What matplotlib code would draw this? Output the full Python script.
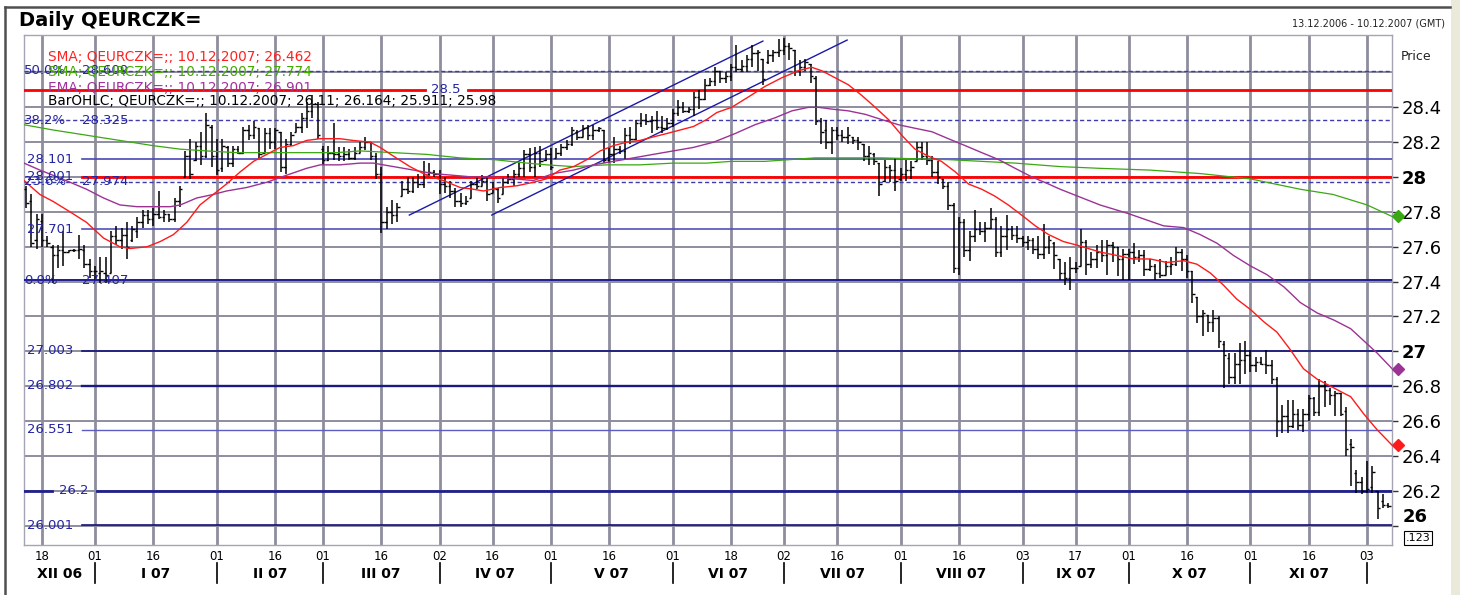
import numpy as np
import pandas as pd
import matplotlib
matplotlib.use('Agg')
import matplotlib.pyplot as plt
import matplotlib.transforms as mtransforms
from matplotlib.lines import Line2D
from matplotlib.patches import Rectangle

# daily OHLC bars, one per weekday from 13.12.2006
bar_open = [27.93, 27.86, 27.64, 27.75, 27.64, 27.60, 27.55, 27.58, 27.57, 27.58,
            27.58, 27.58, 27.50, 27.46, 27.45, 27.45, 27.45, 27.66, 27.64, 27.67,
            27.64, 27.69, 27.74, 27.78, 27.76, 27.79, 27.77, 27.79, 27.76, 27.86,
            28.00, 28.12, 28.10, 28.18, 28.12, 28.29, 28.12, 28.05, 28.17, 28.08,
            28.16, 28.14, 28.27, 28.24, 28.28, 28.14, 28.25, 28.20, 28.26, 28.06,
            28.19, 28.26, 28.29, 28.34, 28.38, 28.42, 28.16, 28.10, 28.14, 28.13,
            28.12, 28.13, 28.11, 28.14,
            28.17, 28.20, 28.12, 28.02, 27.74, 27.80, 27.78, 27.89, 27.93, 27.92,
            27.97, 27.96, 28.02, 28.03, 28.02, 27.96, 27.95, 27.92, 27.86, 27.85,
            27.88, 27.96, 27.95, 27.98, 27.91, 27.93, 27.90, 27.97, 27.99, 28.02,
            28.05, 28.13, 28.06, 28.14, 28.10, 28.13, 28.11, 28.14, 28.17, 28.19,
            28.26, 28.23, 28.28, 28.24, 28.27, 28.27, 28.10, 28.13, 28.16, 28.15,
            28.24, 28.22, 28.31, 28.33, 28.32, 28.33, 28.29, 28.28, 28.31, 28.37,
            28.40, 28.38, 28.39, 28.46, 28.45, 28.53, 28.55, 28.61,
            28.57, 28.58, 28.63, 28.62, 28.64, 28.68, 28.71, 28.68, 28.66, 28.70,
            28.72, 28.73, 28.75, 28.73, 28.61, 28.63, 28.65, 28.57, 28.32, 28.27,
            28.20, 28.27, 28.24, 28.23, 28.23, 28.21, 28.19, 28.12, 28.13, 28.08,
            27.98, 28.06, 28.04, 27.99, 28.02, 28.04, 28.09, 28.17, 28.12, 28.10,
            28.03, 27.99, 27.95, 27.84, 27.48, 27.74, 27.58, 27.66, 27.70, 27.69,
            27.71, 27.76, 27.57, 27.66, 27.70, 27.67, 27.65, 27.63, 27.64, 27.59,
            27.56, 27.60, 27.62,
            27.53, 27.45, 27.42, 27.48, 27.49, 27.63, 27.50, 27.53, 27.57, 27.55,
            27.61, 27.60, 27.53, 27.56, 27.57, 27.54, 27.55, 27.47, 27.49, 27.45,
            27.44, 27.49, 27.50, 27.57, 27.53, 27.46, 27.31, 27.20, 27.21, 27.17,
            27.19, 27.04, 26.96, 26.85, 26.93, 26.95, 26.98, 26.92, 26.94, 26.93,
            26.92, 26.84, 26.60, 26.63, 26.57, 26.64, 26.58, 26.64, 26.73, 26.65,
            26.80, 26.78, 26.75, 26.76, 26.66, 26.47, 26.30, 26.25, 26.20, 26.22,
            26.20, 26.14, 26.12]
bar_high = [27.95, 27.90, 27.79, 27.79, 27.66, 27.61, 27.61, 27.69, 27.58, 27.59,
            27.67, 27.61, 27.53, 27.49, 27.54, 27.54, 27.69, 27.72, 27.71, 27.74,
            27.72, 27.77, 27.81, 27.81, 27.82, 27.92, 27.81, 27.79, 27.88, 27.95,
            28.15, 28.22, 28.20, 28.26, 28.37, 28.30, 28.22, 28.22, 28.18, 28.18,
            28.18, 28.29, 28.30, 28.32, 28.28, 28.28, 28.28, 28.28, 28.26, 28.22,
            28.26, 28.31, 28.37, 28.43, 28.47, 28.43, 28.18, 28.18, 28.31, 28.17,
            28.17, 28.16, 28.17, 28.20,
            28.23, 28.20, 28.14, 28.06, 27.83, 27.87, 27.85, 27.98, 28.00, 28.00,
            28.02, 28.09, 28.08, 28.04, 28.04, 28.00, 27.98, 27.94, 27.91, 27.89,
            27.98, 28.00, 28.01, 28.00, 27.97, 27.94, 28.00, 28.02, 28.04, 28.08,
            28.155, 28.165, 28.17, 28.18, 28.155, 28.165, 28.165, 28.19, 28.21, 28.29,
            28.27, 28.30, 28.30, 28.30, 28.29, 28.27, 28.165, 28.23, 28.18, 28.28,
            28.29, 28.33, 28.37, 28.36, 28.35, 28.38, 28.35, 28.34, 28.39, 28.44,
            28.43, 28.40, 28.49, 28.50, 28.56, 28.57, 28.63, 28.61,
            28.60, 28.65, 28.76, 28.67, 28.70, 28.76, 28.73, 28.68, 28.73, 28.73,
            28.79, 28.80, 28.77, 28.73, 28.67, 28.68, 28.65, 28.58, 28.34, 28.33,
            28.29, 28.29, 28.27, 28.29, 28.23, 28.23, 28.19, 28.18, 28.14, 28.08,
            28.10, 28.07, 28.11, 28.05, 28.10, 28.09, 28.20, 28.20, 28.20, 28.12,
            28.09, 27.99, 27.97, 27.85, 27.77, 27.76, 27.69, 27.81, 27.74, 27.74,
            27.82, 27.77, 27.72, 27.78, 27.72, 27.72, 27.66, 27.66, 27.65, 27.66,
            27.73, 27.66, 27.63,
            27.53, 27.51, 27.54, 27.51, 27.70, 27.64, 27.57, 27.61, 27.64, 27.64,
            27.63, 27.60, 27.59, 27.59, 27.62, 27.58, 27.58, 27.53, 27.50, 27.53,
            27.52, 27.54, 27.60, 27.59, 27.55, 27.46, 27.31, 27.24, 27.21, 27.24,
            27.20, 27.06, 26.99, 26.99, 27.05, 27.06, 27.01, 26.97, 26.97, 27.01,
            26.95, 26.85, 26.69, 26.72, 26.72, 26.67, 26.67, 26.75, 26.74, 26.84,
            26.83, 26.79, 26.77, 26.76, 26.68, 26.50, 26.32, 26.28, 26.37, 26.34,
            26.20, 26.18, 26.13]
bar_low = [27.82, 27.60, 27.59, 27.60, 27.60, 27.39, 27.48, 27.49, 27.57, 27.57,
           27.53, 27.48, 27.42, 27.41, 27.39, 27.39, 27.45, 27.61, 27.59, 27.53,
           27.63, 27.65, 27.71, 27.73, 27.72, 27.76, 27.74, 27.74, 27.74, 27.83,
           28.00, 27.99, 28.09, 28.07, 28.11, 28.06, 28.01, 28.03, 28.06, 28.06,
           28.13, 28.13, 28.21, 28.22, 28.11, 28.14, 28.16, 28.16, 28.03, 28.02,
           28.18, 28.26, 28.25, 28.28, 28.34, 28.22, 28.07, 28.09, 28.10, 28.09,
           28.09, 28.10, 28.10, 28.14,
           28.155, 28.10, 27.99, 27.68, 27.70, 27.73, 27.74, 27.89, 27.90, 27.91,
           27.94, 27.94, 28.00, 28.00, 27.90, 27.91, 27.88, 27.83, 27.83, 27.84,
           27.88, 27.93, 27.95, 27.86, 27.91, 27.85, 27.90, 27.96, 27.95, 28.00,
           28.00, 28.03, 28.00, 28.06, 28.09, 28.04, 28.11, 28.12, 28.155, 28.18,
           28.21, 28.23, 28.21, 28.21, 28.26, 28.08, 28.08, 28.08, 28.13, 28.10,
           28.19, 28.21, 28.29, 28.30, 28.25, 28.27, 28.25, 28.27, 28.29, 28.35,
           28.37, 28.37, 28.35, 28.39, 28.44, 28.52, 28.52, 28.54,
           28.54, 28.55, 28.60, 28.60, 28.60, 28.63, 28.61, 28.53, 28.65, 28.66,
           28.69, 28.70, 28.67, 28.58, 28.58, 28.61, 28.54, 28.30, 28.19, 28.16,
           28.13, 28.21, 28.20, 28.19, 28.19, 28.155, 28.09, 28.07, 28.07, 27.89,
           27.97, 27.97, 27.92, 27.98, 27.98, 27.99, 28.09, 28.10, 28.07, 28.00,
           27.96, 27.93, 27.81, 27.45, 27.44, 27.54, 27.52, 27.63, 27.67, 27.63,
           27.70, 27.54, 27.54, 27.58, 27.64, 27.62, 27.60, 27.58, 27.56, 27.53,
           27.53, 27.56, 27.47,
           27.41, 27.38, 27.35, 27.45, 27.49, 27.44, 27.48, 27.48, 27.51, 27.44,
           27.51, 27.43, 27.41, 27.41, 27.50, 27.51, 27.43, 27.46, 27.41, 27.42,
           27.44, 27.44, 27.49, 27.46, 27.42, 27.28, 27.16, 27.09, 27.11, 27.11,
           27.02, 26.79, 26.81, 26.81, 26.81, 26.87, 26.88, 26.88, 26.92, 26.87,
           26.81, 26.51, 26.53, 26.53, 26.56, 26.55, 26.54, 26.60, 26.63, 26.63,
           26.68, 26.69, 26.63, 26.63, 26.40, 26.23, 26.19, 26.18, 26.19, 26.19,
           26.04, 26.10, 26.10]
bar_close = [27.85, 27.62, 27.76, 27.64, 27.62, 27.55, 27.58, 27.57, 27.58, 27.58,
             27.59, 27.50, 27.46, 27.46, 27.46, 27.44, 27.66, 27.64, 27.67, 27.60,
             27.70, 27.74, 27.78, 27.76, 27.79, 27.77, 27.79, 27.76, 27.86, 27.93,
             28.12, 28.02, 28.18, 28.12, 28.30, 28.12, 28.04, 28.18, 28.08, 28.16,
             28.14, 28.27, 28.24, 28.29, 28.13, 28.25, 28.20, 28.27, 28.06, 28.19,
             28.24, 28.29, 28.34, 28.38, 28.42, 28.24, 28.10, 28.14, 28.13, 28.12,
             28.13, 28.11, 28.14, 28.17,
             28.20, 28.12, 28.02, 27.74, 27.80, 27.78, 27.83, 27.93, 27.92, 27.97,
             27.96, 28.02, 28.03, 28.02, 27.96, 27.95, 27.92, 27.86, 27.85, 27.86,
             27.96, 27.95, 27.98, 27.90, 27.94, 27.88, 27.97, 27.99, 28.02, 28.05,
             28.13, 28.06, 28.14, 28.09, 28.13, 28.06, 28.14, 28.17, 28.19, 28.27,
             28.23, 28.28, 28.24, 28.27, 28.28, 28.10, 28.13, 28.16, 28.15, 28.24,
             28.22, 28.31, 28.33, 28.32, 28.33, 28.29, 28.28, 28.31, 28.37, 28.40,
             28.38, 28.39, 28.46, 28.45, 28.53, 28.55, 28.61, 28.57,
             28.58, 28.63, 28.62, 28.64, 28.68, 28.71, 28.72, 28.56, 28.70, 28.72,
             28.73, 28.75, 28.74, 28.61, 28.63, 28.66, 28.58, 28.32, 28.26, 28.20,
             28.27, 28.24, 28.23, 28.24, 28.21, 28.20, 28.12, 28.14, 28.09, 27.96,
             28.06, 28.04, 27.98, 28.02, 28.04, 28.06, 28.17, 28.12, 28.10, 28.03,
             28.00, 27.95, 27.84, 27.48, 27.74, 27.58, 27.66, 27.70, 27.69, 27.71,
             27.76, 27.57, 27.66, 27.70, 27.67, 27.65, 27.63, 27.64, 27.59, 27.56,
             27.60, 27.64, 27.55,
             27.45, 27.42, 27.48, 27.48, 27.63, 27.50, 27.53, 27.57, 27.55, 27.61,
             27.60, 27.53, 27.56, 27.57, 27.54, 27.55, 27.47, 27.49, 27.45, 27.44,
             27.49, 27.50, 27.57, 27.53, 27.46, 27.33, 27.20, 27.22, 27.17, 27.19,
             27.06, 26.98, 26.85, 26.93, 26.95, 26.98, 26.92, 26.94, 26.93, 26.92,
             26.84, 26.60, 26.63, 26.57, 26.64, 26.58, 26.64, 26.73, 26.65, 26.80,
             26.78, 26.75, 26.76, 26.64, 26.44, 26.45, 26.25, 26.20, 26.21, 26.31,
             26.10, 26.12, 26.11]

# moving averages (bar position, value)
sma_fast_x = [-0.4, 2.6, 5.1, 8.3, 11.4, 14.6, 17.7, 19.6, 22.8, 25.3, 27.8, 30.3, 32.8,
              35.3, 37.8, 40.4, 42.9, 45.4, 47.9, 50.4, 52.9, 55.5, 59.2, 61.7, 64.9,
              66.8, 69.3, 72.4, 75.6, 78.7, 81.9, 84.4, 86.3, 89.4, 92.6, 95.7, 98.2,
              100.7, 103.3, 105.8, 108.3, 110.8, 113.3, 115.8, 118.3, 120.9, 123.4,
              125.9, 128.4, 130.3, 133.1, 136.3, 139.4, 142.6, 145.7, 148.2, 150.1,
              152.6, 155.1, 157.6, 160.2, 162.7, 165.2, 167.7, 170.2, 172.7, 175.3,
              177.8, 180.3, 182.8, 185.3, 187.9, 190.4, 192.9, 195.7, 198.2, 202.6,
              205.8, 208.9, 212.1, 215.2, 218.4, 220.9, 223.4, 225.9, 228.4, 231.0,
              233.5, 236.0, 238.5, 241.0, 243.6, 246.1, 248.6, 249.9, 252.4, 254.9, 257.7]
sma_fast_y = [27.98, 27.90, 27.86, 27.80, 27.74, 27.65, 27.60, 27.59, 27.60, 27.63, 27.67,
              27.74, 27.84, 27.90, 27.96, 28.03, 28.09, 28.13, 28.17, 28.18, 28.21, 28.22,
              28.22, 28.21, 28.20, 28.17, 28.12, 28.06, 28.01, 27.98, 27.94, 27.93, 27.92,
              27.94, 27.95, 27.97, 27.99, 28.04, 28.06, 28.10, 28.15, 28.18, 28.20, 28.21,
              28.23, 28.25, 28.27, 28.29, 28.33, 28.37, 28.40, 28.46, 28.52, 28.57, 28.61,
              28.63, 28.61, 28.57, 28.53, 28.47, 28.40, 28.33, 28.24, 28.16, 28.12, 28.09,
              28.03, 27.96, 27.93, 27.89, 27.84, 27.78, 27.72, 27.67, 27.63, 27.61, 27.57,
              27.55, 27.53, 27.53, 27.51, 27.52, 27.50, 27.45, 27.38, 27.30, 27.24, 27.17,
              27.11, 27.01, 26.90, 26.84, 26.80, 26.76, 26.74, 26.64, 26.55, 26.462]
ema_x = [-0.4, 2.6, 5.1, 8.3, 11.4, 14.6, 17.7, 20.9, 24.0, 27.2, 29.1, 32.2, 35.3, 37.8,
         41.6, 45.4, 49.1, 52.9, 55.5, 59.2, 63.0, 65.5, 69.3, 73.1, 76.8, 80.6, 84.4,
         88.2, 92.0, 95.7, 99.5, 103.3, 107.0, 110.8, 114.6, 118.3, 122.1, 125.9, 129.7,
         133.8, 137.5, 141.3, 144.5, 147.6, 149.5, 152.0, 155.1, 158.3, 161.4, 164.6,
         167.7, 170.9, 174.0, 177.2, 180.3, 183.5, 186.6, 189.8, 192.9, 195.1, 202.6,
         208.0, 214.6, 218.4, 221.5, 224.7, 227.8, 231.0, 234.1, 237.3, 240.4, 243.6,
         246.7, 249.9, 252.4, 254.9, 257.7]
ema_y = [28.08, 28.04, 28.01, 27.97, 27.93, 27.88, 27.84, 27.83, 27.83, 27.83, 27.84,
         27.88, 27.90, 27.92, 27.94, 27.97, 28.01, 28.05, 28.07, 28.07, 28.08, 28.08,
         28.06, 28.04, 28.02, 28.01, 28.00, 28.00, 27.99, 27.98, 28.02, 28.04, 28.07,
         28.09, 28.11, 28.13, 28.15, 28.17, 28.20, 28.25, 28.30, 28.34, 28.38, 28.40,
         28.40, 28.39, 28.38, 28.36, 28.33, 28.30, 28.28, 28.26, 28.22, 28.18, 28.14,
         28.10, 28.05, 28.00, 27.96, 27.93, 27.84, 27.79, 27.72, 27.71, 27.67, 27.62,
         27.55, 27.49, 27.44, 27.37, 27.28, 27.22, 27.18, 27.13, 27.06, 26.99, 26.901]
sma_slow_x = [-0.4, 5.1, 11.4, 17.7, 24.0, 29.1, 34.0, 39.7, 46.0, 52.3, 58.6, 63.0, 69.3,
              75.6, 81.9, 88.2, 94.5, 98.2, 103.3, 109.6, 115.8, 122.1, 128.4, 133.0,
              139.4, 148.8, 161.4, 174.0, 180.3, 186.6, 195.1, 202.6, 212.0, 221.5,
              230.9, 240.4, 246.6, 253.0, 257.7]
sma_slow_y = [28.30, 28.27, 28.24, 28.21, 28.18, 28.16, 28.15, 28.14, 28.14, 28.14, 28.14,
              28.15, 28.14, 28.13, 28.11, 28.10, 28.08, 28.07, 28.06, 28.07, 28.07, 28.08,
              28.08, 28.09, 28.09, 28.11, 28.11, 28.10, 28.09, 28.08, 28.06, 28.05, 28.04,
              28.02, 27.99, 27.93, 27.90, 27.84, 27.774]

# fibonacci retracement 27.407 -> 29.811
fib_levels = [27.407, 27.974, 28.325, 28.609]
fib_names = ['0.0%', '23.6%', '38.2%', '50.0%']
# horizontal support / resistance lines
support_levels = [28.101, 27.701, 27.003, 26.802, 26.551, 26.001]
support_colors = ['#4848b6', '#5252ba', '#12127c', '#1a1a82', '#5c5cc2', '#12127c']
support_widths = [1.2, 1.2, 1.2, 1.7, 1.0, 1.2]
red_levels = [28.5, 28.001]
mid_level = 26.2
# trend channel
channel_upper_x = [72.3, 139.0]
channel_upper_y = [27.782, 28.780]
channel_lower_x = [87.85, 154.9]
channel_lower_y = [27.782, 28.786]

price_ticks = [26.0, 26.2, 26.4, 26.6, 26.8, 27.0, 27.2, 27.4, 27.6, 27.8, 28.0, 28.2, 28.4]
last_sma_fast = 26.462
last_sma_slow = 27.774
last_ema = 26.901
roman = ['I', 'II', 'III', 'IV', 'V', 'VI', 'VII', 'VIII', 'IX', 'X', 'XI', 'XII']

W, H = 1460, 595
L, R, T, B = 24, 1392, 35, 545
fig = plt.figure(figsize=(W / 100, H / 100), dpi=100)
fig.patch.set_facecolor('white')
ax = fig.add_axes([L / W, 1 - B / H, (R - L) / W, (B - T) / H])
xmin, xmax = -0.4, 257.7
ax.set_xlim(xmin, xmax)
ax.set_ylim(25.889, 28.815)


def fx(px):
    # pixel column -> axes fraction
    return (px - L) / (R - L)


def fy(py):
    return (B - py) / (B - T)


blend = mtransforms.blended_transform_factory(ax.transData, ax.transAxes)
yblend = mtransforms.blended_transform_factory(ax.transAxes, ax.transData)

idx = np.arange(len(bar_close))
dates = pd.bdate_range('2006-12-13', periods=len(bar_close))

# tick positions: first bar of each month and first bar on/after the 16th
ticks, month_starts = [], []
for i in range(1, len(dates)):
    d, p = dates[i], dates[i - 1]
    if d.month != p.month:
        ticks.append(i)
        month_starts.append(i)
    elif d.day >= 16 and p.day < 16:
        ticks.append(i)

grid_col = '#8d8d9e'
for t in ticks:
    ax.axvline(t, color=grid_col, lw=2.0, zorder=1)
for v in price_ticks + [28.6]:
    ax.axhline(v, color=grid_col, lw=1.4, zorder=1)

# level lines
lab_col = '#2424a2'
for v, name in zip(fib_levels, fib_names):
    if name == '0.0%':
        ax.axhline(v, color='#1c1c8e', lw=1.4, zorder=3)
    else:
        ax.axhline(v, color='#3c3cac', lw=1.0, dashes=(3, 2), zorder=3)
    ax.text(fx(24), v, name, transform=yblend, color=lab_col, fontsize=9.5,
            va='center', ha='left', zorder=6)
    ax.text(fx(82), v, f'{v:.3f}', transform=yblend, color=lab_col, fontsize=9.5,
            va='center', ha='left', zorder=6)

for v, c, w in zip(support_levels, support_colors, support_widths):
    ax.axhline(v, xmin=fx(82), xmax=1, color=c, lw=w, zorder=3)
    ax.text(fx(27), v, f'{v:.3f}', transform=yblend, color=lab_col, fontsize=9.5,
            va='center', ha='left', zorder=6)

ax.axhline(mid_level, xmin=0, xmax=fx(52), color='#20208c', lw=2.0, zorder=3)
ax.axhline(mid_level, xmin=fx(97), xmax=1, color='#20208c', lw=2.0, zorder=3)
ax.text(fx(74), mid_level, f'{mid_level:g}', transform=yblend, color=lab_col,
        fontsize=9.5, va='center', ha='center', zorder=6)

top_red, low_red = red_levels
ax.axhline(top_red, xmin=0, xmax=fx(425), color='#ff0000', lw=2.0, zorder=3)
ax.axhline(top_red, xmin=fx(468), xmax=1, color='#ff0000', lw=2.0, zorder=3)
ax.text(fx(446), top_red, f'{top_red:g}', transform=yblend, color=lab_col,
        fontsize=9.5, va='center', ha='center', zorder=6)
ax.axhline(low_red, xmin=fx(82), xmax=1, color='#ff0000', lw=2.0, zorder=3)
ax.text(fx(27), low_red, f'{low_red:.3f}', transform=yblend, color=lab_col,
        fontsize=9.5, va='center', ha='left', zorder=6)

# channel
ax.plot(channel_upper_x, channel_upper_y, color='#1a1aa6', lw=1.0, zorder=4)
ax.plot(channel_lower_x, channel_lower_y, color='#1a1aa6', lw=1.0, zorder=4)

# OHLC bars
ax.vlines(idx, bar_low, bar_high, color='black', lw=1.1, zorder=4)
ax.hlines(bar_open, idx - 0.45, idx, color='black', lw=1.0, zorder=4)
ax.hlines(bar_close, idx, idx + 0.45, color='black', lw=1.0, zorder=4)

# moving averages
ax.plot(sma_slow_x, sma_slow_y, color='#3aa812', lw=0.9, zorder=5)
ax.plot(ema_x, ema_y, color='#9c3394', lw=1.0, zorder=5)
ax.plot(sma_fast_x, sma_fast_y, color='#ff1a1a', lw=1.0, zorder=5)
dx = xmin + (1398 - L) / (R - L) * (xmax - xmin)
for v, c in [(last_sma_slow, '#3aa812'), (last_ema, '#9c3394'), (last_sma_fast, '#ff1a1a')]:
    ax.plot([dx], [v], marker='D', ms=6.5, color=c, clip_on=False, zorder=7)

# axes look
for s in ax.spines.values():
    s.set_color('#a4a4b4')
    s.set_linewidth(1.0)
ax.set_xticks([])
ax.yaxis.tick_right()
# the bottom label sits a little higher (above the last-price box), drawn by hand
ax.set_yticks(price_ticks, [f'{v:g}' if v != price_ticks[0] else '' for v in price_ticks])
ax.tick_params(axis='y', length=4, width=1, color='#333333', pad=3, labelsize=13)
for lab in ax.get_yticklabels():
    if lab.get_text() and '.' not in lab.get_text():
        lab.set_fontweight('bold')
ax.text(fx(1403), price_ticks[0], f'{price_ticks[0]:g}', transform=yblend,
        fontsize=13, fontweight='bold', ha='left', va='bottom', clip_on=False)

# bottom date labels
for t in ticks:
    ax.text(t, fy(557), f'{dates[t].day:02d}', transform=blend, ha='center',
            va='center', fontsize=8.5, clip_on=False)
for m in month_starts:
    ax.plot([m, m], [fy(563), fy(583)], transform=blend, color='black', lw=1.2,
            clip_on=False)
bounds = [xmin] + month_starts + [xmax]
for a, b in zip(bounds[:-1], bounds[1:]):
    if b - a < 12:
        continue
    d = dates[int(np.ceil(max(a, 0)))]
    ax.text((a + b) / 2, fy(574), f'{roman[d.month - 1]} {d.year % 100:02d}',
            transform=blend, ha='center', va='center', fontsize=10,
            fontweight='bold', clip_on=False)

# header and legend texts
fig.text(19 / W, 1 - 21 / H, 'Daily QEURCZK=', fontsize=14, fontweight='bold',
         va='center', ha='left')
fig.text(1445 / W, 1 - 23 / H, '13.12.2006 - 10.12.2007 (GMT)', fontsize=7,
         va='center', ha='right', color='#222222')
fig.text(1401 / W, 1 - 57 / H, 'Price', fontsize=9, va='center', ha='left',
         color='#222222')
fig.text(1418 / W, 1 - 538 / H, '.123', fontsize=8, va='center', ha='center',
         bbox=dict(boxstyle='square,pad=0.15', fc='white', ec='black', lw=0.8))

legend_lines = [
    (f'SMA; QEURCZK=;; 10.12.2007; {last_sma_fast}', '#ff2020', 57),
    (f'SMA; QEURCZK=;; 10.12.2007; {last_sma_slow}', '#44aa00', 72),
    (f'EMA; QEURCZK=;; 10.12.2007; {last_ema}', '#a0339b', 88),
    ('BarOHLC; QEURCZK=;; 10.12.2007; 26.11; 26.164; 25.911; 25.98', 'black', 101),
]
for txt, c, py in legend_lines:
    fig.text(48 / W, 1 - py / H, txt, color=c, fontsize=9.8, va='center', ha='left',
             zorder=8)

# window frame
fig.add_artist(Line2D([5 / W, 5 / W], [0, 1 - 7 / H], transform=fig.transFigure,
                      color='#505050', lw=1.8))
fig.add_artist(Line2D([5 / W, 1450 / W], [1 - 7 / H, 1 - 7 / H],
                      transform=fig.transFigure, color='#505050', lw=1.8))
fig.add_artist(Rectangle((1451 / W, 0), 9 / W, 1, transform=fig.transFigure,
                         color='#ebe8dc', lw=0))

fig.savefig('out.png', dpi=100)
